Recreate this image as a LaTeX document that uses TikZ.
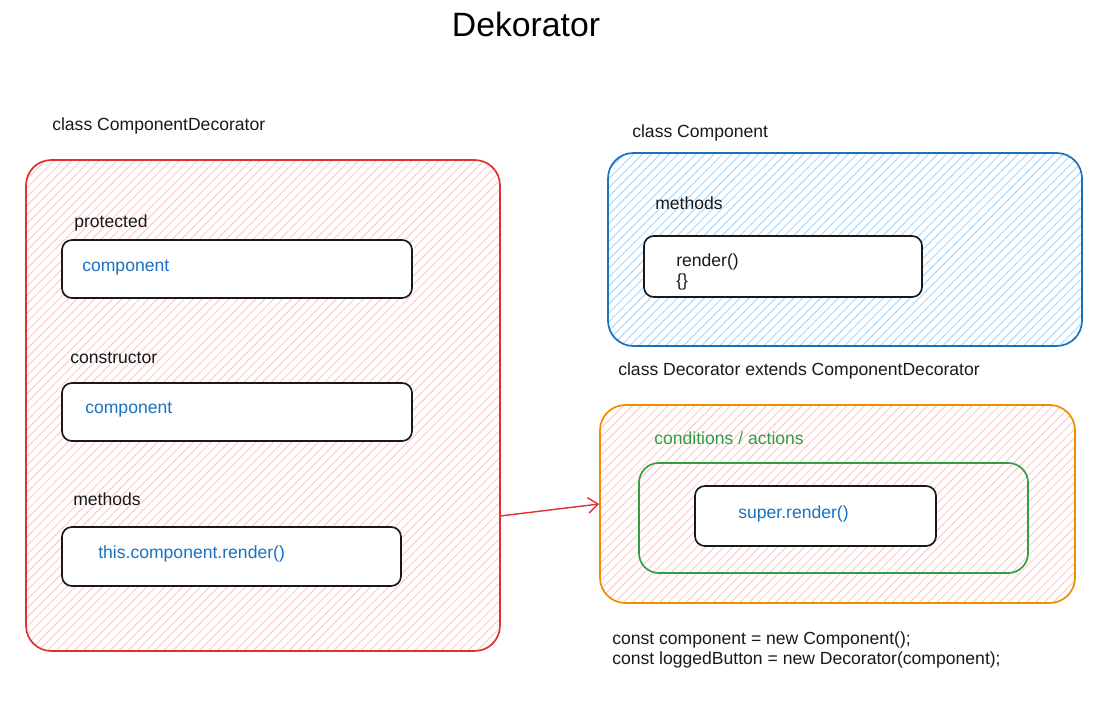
\documentclass[tikz,border=0pt]{standalone}
\usepackage{fontspec}
\setmainfont{Liberation Sans}
\usetikzlibrary{fit,patterns.meta,arrows.meta}
\definecolor{cdred}{HTML}{E03131}
\definecolor{cdblue}{HTML}{1971C2}
\definecolor{cdorange}{HTML}{F08C00}
\definecolor{cdgreen}{HTML}{2F9E44}
\definecolor{hatchred}{HTML}{FFC9C9}
\definecolor{hatchblue}{HTML}{A5D8FF}

\begin{document}
\begin{tikzpicture}[x=0.025cm, y=-0.025cm, font=\fontsize{12.5}{14}\selectfont,
  lbl/.style={anchor=west, inner sep=0pt, text=black!90},
  code/.style={lbl, text=cdblue},
  area/.style={draw, line width=1.2pt, rounded corners=18pt, inner sep=0pt},
  item/.style={draw=black!90, line width=1.2pt, rounded corners=7pt, fill=white, inner sep=0pt},
  hatch/.style={pattern={Lines[angle=45,distance=4.5pt,line width=0.7pt]}, pattern color=#1}]
\useasboundingbox (0,0) rectangle (1109,707);
\node[font=\fontsize{24}{28}\selectfont] (title) at (526,24) {Dekorator};

% ComponentDecorator
\node[lbl] (cdecolbl) at (52,126) {class ComponentDecorator};
\node[area, draw=cdred, hatch=hatchred, fit={(26,160) (500,651)}] (cdeco) {};
\node[lbl] (prot) at (74,223) {protected};
\node[item, fit={(62,240) (412,298)}] (protbox) {};
\node[code] (protitem) at (82,268) {component};
\node[lbl] (ctor) at (70,358) {constructor};
\node[item, fit={(62,383) (412,441)}] (ctorbox) {};
\node[code] (ctoritem) at (85,410) {component};
\node[lbl] (cdmeth) at (73,499) {methods};
\node[item, fit={(62,527) (401,586)}] (cdmethbox) {};
\node[code] (cdmethitem) at (98,554) {this.component.render()};

% Component
\node[lbl] (complbl) at (632,133) {class Component};
\node[area, draw=cdblue, hatch=hatchblue, fit={(608,153) (1082,346)}] (comp) {};
\node[lbl] (compmeth) at (655,203) {methods};
\node[item, fit={(644,236) (922,297)}] (compmethbox) {};
\node[lbl, align=left] (compmethitem) at (676,272) {render()\\\{\}};

% Decorator
\node[lbl] (declbl) at (618,371) {class Decorator extends ComponentDecorator};
\node[area, draw=cdorange, hatch=hatchred, fit={(600,405) (1075,603)}] (dec) {};
\node[lbl, text=cdgreen] (cond) at (654,438) {conditions / actions};
\node[area, draw=cdgreen, rounded corners=14pt, fit={(639,463) (1028,573)}] (condbox) {};
\node[item, fit={(695,486) (936,546)}] (superbox) {};
\node[code] (superitem) at (738,514) {super.render()};

\coordinate (arrowstart) at (500,516);
\draw[-{Straight Barb[length=7pt,width=11pt]}, cdred, line width=1pt] (arrowstart) -- (dec.west);

\node[lbl, align=left] (usage) at (612,650) {const component = new Component();\\const loggedButton = new Decorator(component);};
\end{tikzpicture}
\end{document}
